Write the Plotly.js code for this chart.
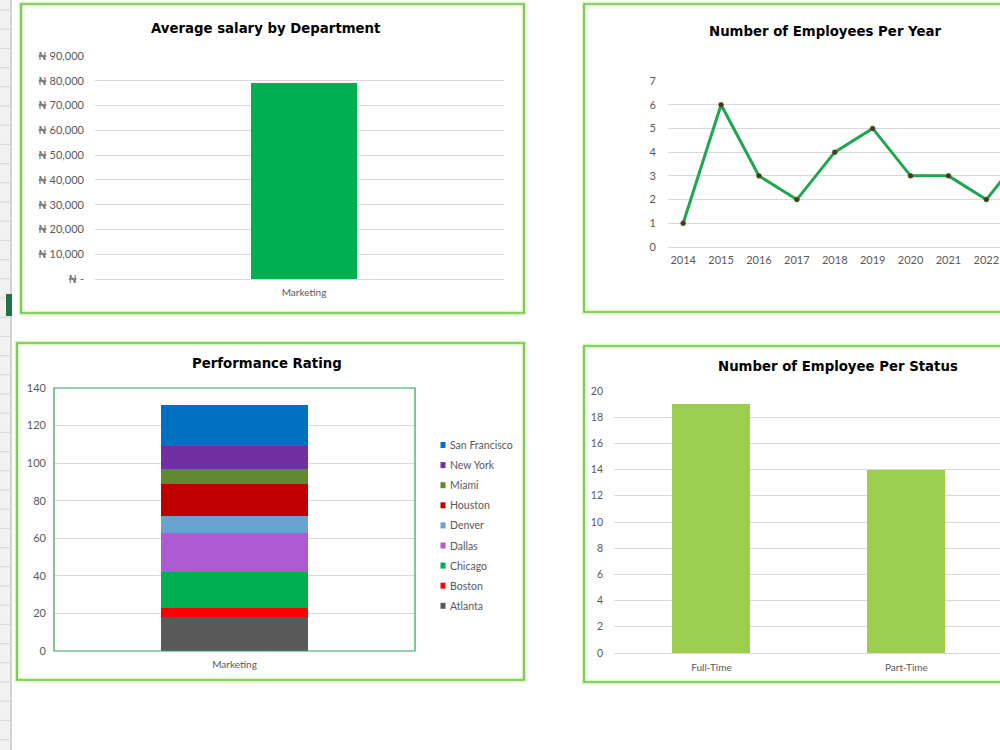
<!DOCTYPE html>
<html>
<head>
<meta charset="utf-8">
<script src="https://cdn.plot.ly/plotly-3.0.1.min.js"></script>
<style>
  html, body { margin: 0; padding: 0; background: #ffffff; }
  #chart { width: 1000px; height: 750px; }
</style>
</head>
<body>
<div id="chart"></div>
<script>
// ---------- DATA ----------
const salaryDepartments = ["Marketing"];
const averageSalary = [79000];
const salaryTickValues = [0, 10000, 20000, 30000, 40000, 50000, 60000, 70000, 80000, 90000];
const salaryTickLabels = ["₦ -", "₦ 10,000", "₦ 20,000", "₦ 30,000", "₦ 40,000", "₦ 50,000", "₦ 60,000", "₦ 70,000", "₦ 80,000", "₦ 90,000"];

const years = ["2014", "2015", "2016", "2017", "2018", "2019", "2020", "2021", "2022", "2023"];
const employeesPerYear = [1, 6, 3, 2, 4, 5, 3, 3, 2, 4];

const ratingDepartments = ["Marketing"];
const cities = ["Atlanta", "Boston", "Chicago", "Dallas", "Denver", "Houston", "Miami", "New York", "San Francisco"];
const ratingByCity = [18, 5, 19, 21, 9, 17, 8, 12, 22];

const statuses = ["Full-Time", "Part-Time"];
const employeesPerStatus = [19, 14];

// ---------- STYLE ----------
const cityColors = ["#595959", "#ff0000", "#00b050", "#ad5ad3", "#6ba1cf", "#c00000", "#5f8a2f", "#7030a0", "#0070c0"];
const tickFont = { family: "Lato, 'DejaVu Sans', sans-serif", size: 11, color: "#595959" };
const titleFont = { family: "'DejaVu Sans', sans-serif", size: 13.3, color: "#000000", weight: 700 };
const gridColor = "#d9d9d9";
const W = 1000, H = 750;
const px = v => v / W;
const py = v => 1 - v / H;

const traces = [];
traces.push({
  type: "bar", x: salaryDepartments, y: averageSalary, xaxis: "x", yaxis: "y",
  marker: { color: "#00b050" }, width: 0.26, showlegend: false
});
traces.push({
  type: "scatter", mode: "lines+markers", x: years, y: employeesPerYear, xaxis: "x2", yaxis: "y2",
  line: { color: "#1fa650", width: 3 },
  marker: { color: "#3b3b1e", size: 5, line: { color: "#6b6b2e", width: 0.5 } },
  showlegend: false
});
cities.forEach((c, i) => {
  traces.push({
    type: "bar", name: c, x: ratingDepartments, y: [ratingByCity[i]], xaxis: "x3", yaxis: "y3",
    marker: { color: cityColors[i] }, width: 0.407, showlegend: false
  });
});
traces.push({
  type: "bar", x: statuses, y: employeesPerStatus, xaxis: "x4", yaxis: "y4",
  marker: { color: "#9bcd4f" }, width: 0.4, showlegend: false
});

// ---------- DECORATION SHAPES ----------
const shapes = [];
// Excel row-header strip on the left
shapes.push({ type: "rect", xref: "paper", yref: "paper", x0: 0, x1: px(10), y0: 0, y1: 1,
  fillcolor: "#f1f1f1", line: { width: 0 }, layer: "below" });
shapes.push({ type: "line", xref: "paper", yref: "paper", x0: px(11), x1: px(11), y0: 0, y1: 1,
  line: { color: "#d2d2d2", width: 2 }, layer: "below" });
for (let r = 10; r < H; r += 19.2) {
  shapes.push({ type: "line", xref: "paper", yref: "paper", x0: 0, x1: px(10), y0: py(r), y1: py(r),
    line: { color: "#d6d6d6", width: 1 }, layer: "below" });
}
shapes.push({ type: "rect", xref: "paper", yref: "paper", x0: px(6), x1: px(12), y0: py(316), y1: py(294),
  fillcolor: "#217346", line: { width: 0 } });

// Panel borders with a lime glow
const panels = [[21, 4, 524, 313], [584, 4, 1006, 312], [17, 343, 524, 680], [584, 346, 1006, 682]];
panels.forEach(p => {
  shapes.push({ type: "rect", xref: "paper", yref: "paper", x0: px(p[0]), x1: px(p[2]), y0: py(p[3]), y1: py(p[1]),
    line: { color: "#e3f9c8", width: 5 }, layer: "below" });
  shapes.push({ type: "rect", xref: "paper", yref: "paper", x0: px(p[0]), x1: px(p[2]), y0: py(p[3]), y1: py(p[1]),
    line: { color: "#c2f08e", width: 2.5 }, layer: "below" });
  shapes.push({ type: "rect", xref: "paper", yref: "paper", x0: px(p[0]), x1: px(p[2]), y0: py(p[3]), y1: py(p[1]),
    line: { color: "#4fae55", width: 1.2 }, layer: "below" });
});

// Green frame around the Performance Rating plot area
shapes.push({ type: "rect", xref: "x3 domain", yref: "y3 domain", x0: 0, x1: 1, y0: 0, y1: 1,
  line: { color: "#2f9f5c", width: 1.2 }, layer: "above" });

// ---------- TITLES ----------
const titleAnn = (text, x, y) => ({ text: text, xref: "paper", yref: "paper", x: px(x), y: py(y),
  xanchor: "center", yanchor: "middle", showarrow: false, font: titleFont });
const annotations = [
  titleAnn("Average salary by Department", 266, 29),
  titleAnn("Number of Employees Per Year", 825, 32),
  titleAnn("Performance Rating", 267, 363),
  titleAnn("Number of Employee Per Status", 838, 366)
];

// ---------- CUSTOM LEGEND for Performance Rating (top entry = last series) ----------
const legendFont = { family: "Lato, 'DejaVu Sans', sans-serif", size: 10.5, color: "#595959" };
for (let k = 0; k < cities.length; k++) {
  const i = cities.length - 1 - k;
  const yc = 445 + k * 20.1;
  shapes.push({ type: "rect", xref: "paper", yref: "paper", x0: px(440.5), x1: px(445.5), y0: py(yc + 3), y1: py(yc - 3),
    fillcolor: cityColors[i], line: { width: 0 } });
  annotations.push({ text: cities[i], xref: "paper", yref: "paper", x: px(448), y: py(yc),
    xanchor: "left", yanchor: "middle", showarrow: false, font: legendFont });
}

const catAxis = (domain, anchor, extra) => Object.assign({
  domain: domain, anchor: anchor, type: "category", showgrid: false, zeroline: false,
  showline: false, ticks: "", tickfont: Object.assign({}, tickFont, { size: 10 }), fixedrange: true
}, extra || {});
const valAxis = (domain, anchor, extra) => Object.assign({
  domain: domain, anchor: anchor, showgrid: true, gridcolor: gridColor, gridwidth: 1,
  zeroline: false, showline: false, ticks: "", tickfont: tickFont, fixedrange: true
}, extra || {});

const layout = {
  width: W, height: H,
  margin: { l: 0, r: 0, t: 0, b: 0 },
  paper_bgcolor: "#ffffff", plot_bgcolor: "rgba(0,0,0,0)",
  barmode: "stack",
  showlegend: false,
  xaxis: catAxis([px(95), px(504)], "y", { range: [-0.511, 0.489], showline: true, linecolor: gridColor, ticklabelstandoff: 4 }),
  yaxis: valAxis([py(279), py(56)], "x", { range: [0, 90000], tickvals: salaryTickValues, ticktext: salaryTickLabels, ticklabelstandoff: 10 }),
  xaxis2: catAxis([px(668), 1], "y2", { range: [-0.4, 8.36], showline: true, linecolor: gridColor, tickfont: tickFont, ticklabelstandoff: 3 }),
  yaxis2: valAxis([py(247), py(81)], "x2", { range: [0, 7], dtick: 1, ticklabelstandoff: 11 }),
  xaxis3: catAxis([px(54), px(415)], "y3", { range: [-0.5, 0.5], ticklabelstandoff: 6 }),
  yaxis3: valAxis([py(651), py(388)], "x3", { range: [0, 140], dtick: 20, ticklabelstandoff: 7 }),
  xaxis4: catAxis([px(614), 1], "y4", { range: [-0.5, 1.48], showline: true, linecolor: gridColor, ticklabelstandoff: 5 }),
  yaxis4: valAxis([py(653), py(391)], "x4", { range: [0, 20], dtick: 2, ticklabelstandoff: 10, tickfont: Object.assign({}, tickFont, { size: 10.5 }) }),
  shapes: shapes,
  annotations: annotations
};

Plotly.newPlot("chart", traces, layout, { displayModeBar: false, staticPlot: true });
</script>
</body>
</html>
